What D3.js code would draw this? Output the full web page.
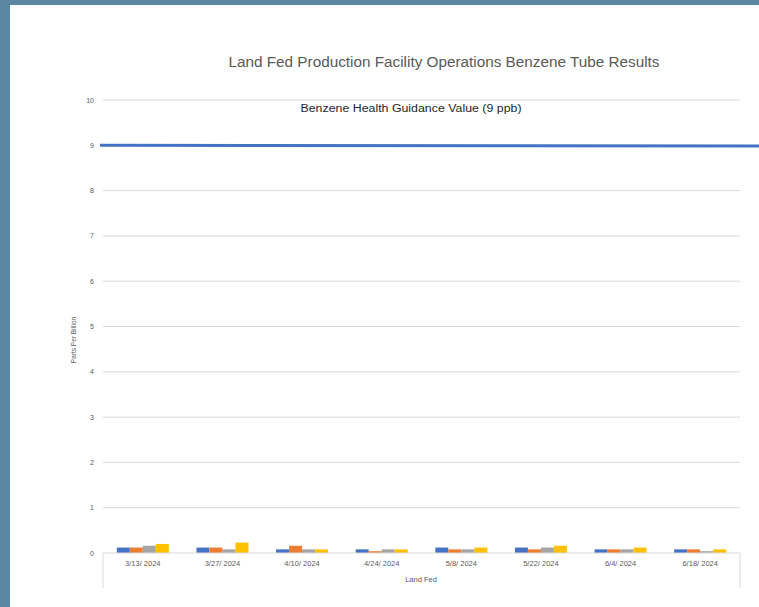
<!DOCTYPE html>
<html>
<head>
<meta charset="utf-8">
<script src="https://cdn.jsdelivr.net/npm/d3@7"></script>
<style>
  body { margin: 0; background: #5b87a3; }
  svg { display: block; }
</style>
</head>
<body>
<svg id="chart" width="759" height="607"></svg>
<script>
// sampling dates
var dates = ["3/13/2024", "3/27/2024", "4/10/2024", "4/24/2024", "5/8/2024", "5/22/2024", "6/4/2024", "6/18/2024"];
// four tube series (ppb)
var seriesNames = ["Tube 1", "Tube 2", "Tube 3", "Tube 4"];
var tube1 = [0.12, 0.12, 0.08, 0.08, 0.12, 0.12, 0.08, 0.08];
var tube2 = [0.12, 0.12, 0.16, 0.04, 0.08, 0.08, 0.08, 0.08];
var tube3 = [0.16, 0.08, 0.08, 0.08, 0.08, 0.12, 0.08, 0.04];
var tube4 = [0.20, 0.23, 0.08, 0.08, 0.12, 0.16, 0.12, 0.08];
var yTicks = [0, 1, 2, 3, 4, 5, 6, 7, 8, 9, 10];
var guidance = 9;

var colors = ["#4472c4", "#ed7d31", "#a5a5a5", "#ffc000"];
var series = [tube1, tube2, tube3, tube4];

var svg = d3.select("#chart");
var font = "'Liberation Sans', Arial, sans-serif";

// white chart panel
svg.append("rect").attr("x", 10).attr("y", 5).attr("width", 749).attr("height", 602).attr("fill", "#fff");

var margin = {top: 100, left: 103, right: 19, bottom: 54};
var width = 759 - margin.left - margin.right;
var height = 607 - margin.top - margin.bottom;

var x = d3.scaleBand().domain(dates).range([margin.left, margin.left + width])
  .paddingInner(0.347).paddingOuter(0.1735);
var xStep = d3.scaleBand().domain(dates).range([margin.left, margin.left + width]);
var xs = d3.scaleBand().domain(d3.range(series.length)).range([0, x.bandwidth()]);
var y = d3.scaleLinear().domain([0, 10]).range([margin.top + height, margin.top]);

// gridlines
svg.append("g").selectAll("line").data(yTicks.slice(1)).enter().append("line")
  .attr("x1", margin.left).attr("x2", margin.left + width)
  .attr("y1", d => y(d)).attr("y2", d => y(d))
  .attr("stroke", "#d9d9d9").attr("stroke-width", 1);

// y tick labels
svg.append("g").selectAll("text").data(yTicks).enter().append("text")
  .attr("x", 94).attr("y", d => y(d) + 2.5)
  .attr("text-anchor", "end")
  .attr("font-family", font).attr("font-size", 7).attr("fill", "#595959")
  .text(d => d);

// bars
series.forEach(function(vals, si) {
  svg.append("g").selectAll("rect").data(vals).enter().append("rect")
    .attr("x", (d, i) => x(dates[i]) + xs(si))
    .attr("width", xs.bandwidth())
    .attr("y", d => y(d))
    .attr("height", d => y(0) - y(d))
    .attr("fill", colors[si]);
});

// x axis line + outer edges
var g = svg.append("g").attr("stroke", "#d9d9d9").attr("stroke-width", 1);
g.append("line").attr("x1", margin.left).attr("x2", margin.left + width)
  .attr("y1", y(0)).attr("y2", y(0));
g.append("line").attr("x1", margin.left).attr("x2", margin.left)
  .attr("y1", y(0)).attr("y2", y(0) + 35);
g.append("line").attr("x1", margin.left + width).attr("x2", margin.left + width)
  .attr("y1", y(0)).attr("y2", y(0) + 35);

// category labels (Excel shows a space after the last slash)
svg.append("g").selectAll("text").data(dates).enter().append("text")
  .attr("x", d => xStep(d) + xStep.bandwidth() / 2)
  .attr("y", y(0) + 13)
  .attr("text-anchor", "middle")
  .attr("font-family", font).attr("font-size", 7.5).attr("fill", "#595959")
  .text(d => d.replace(/\/(\d{4})$/, "/ $1"));

svg.append("text").attr("x", 421).attr("y", y(0) + 29)
  .attr("text-anchor", "middle")
  .attr("font-family", font).attr("font-size", 7.5).attr("fill", "#595959")
  .text("Land Fed");

// y axis title
svg.append("text")
  .attr("transform", "translate(76,340) rotate(-90)")
  .attr("text-anchor", "middle")
  .attr("font-family", font).attr("font-size", 6.5).attr("fill", "#595959")
  .text("Parts Per Billion");

// guidance line
svg.append("line")
  .attr("x1", 100).attr("x2", 759)
  .attr("y1", y(guidance)).attr("y2", y(guidance) + 0.8)
  .attr("stroke", "#4472c4").attr("stroke-width", 3);

svg.append("text").attr("x", 411).attr("y", 112)
  .attr("text-anchor", "middle")
  .attr("font-family", font).attr("font-size", 10).attr("fill", "#262626")
  .attr("textLength", 221).attr("lengthAdjust", "spacingAndGlyphs")
  .text("Benzene Health Guidance Value (9 ppb)");

// title
svg.append("text").attr("x", 444).attr("y", 67)
  .attr("text-anchor", "middle")
  .attr("font-family", font).attr("font-size", 14).attr("fill", "#595959")
  .attr("textLength", 431).attr("lengthAdjust", "spacingAndGlyphs")
  .text("Land Fed Production Facility Operations Benzene Tube Results");
</script>
</body>
</html>
